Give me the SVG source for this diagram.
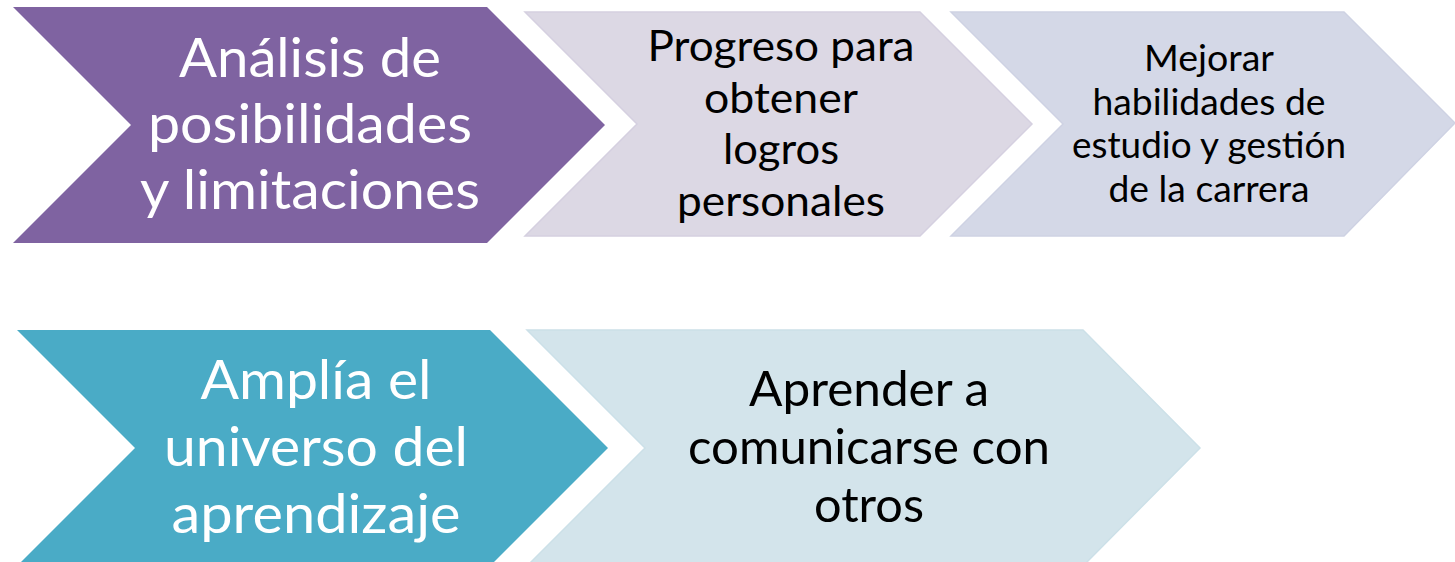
<svg xmlns="http://www.w3.org/2000/svg" width="1455" height="562" viewBox="0 0 1455 562">
<style>
  text { font-family: Lato, "Open Sans", "Liberation Sans", sans-serif; text-anchor: middle; }
  .w { fill: #ffffff; }
  .k { fill: #000000; }
  .f1 { font-size: 55px; }
  .f2 { font-size: 42.5px; }
  .f3 { font-size: 36px; }
  .f5 { font-size: 47.5px; }
  .purple { fill: #7f63a1; }
  .lpurple { fill: #dcd8e4; stroke: #d5d0e0; stroke-width: 1.5; }
  .lblue { fill: #d4d8e7; stroke: #ced2e3; stroke-width: 1.5; }
  .teal { fill: #4aabc6; }
  .lteal { fill: #d3e4eb; stroke: #cce0e8; stroke-width: 1.5; }
</style>
<rect width="1455" height="562" fill="#ffffff"/>
<g id="analisis">
  <path class="purple" d="M13,7 L487,7 L605,125 L487,243 L13,243 L131,125 Z"/>
  <text class="w f1" x="310" y="77" textLength="262" lengthAdjust="spacingAndGlyphs">Análisis de</text>
  <text class="w f1" x="310" y="143" textLength="324" lengthAdjust="spacingAndGlyphs">posibilidades</text>
  <text class="w f1" x="310" y="209" textLength="340" lengthAdjust="spacingAndGlyphs">y limitaciones</text>
</g>
<g id="progreso">
  <path class="lpurple" d="M525,12 L920,12 L1032,124 L920,236 L525,236 L637,124 Z"/>
  <text class="k f2" x="781" y="61" textLength="267" lengthAdjust="spacingAndGlyphs">Progreso para</text>
  <text class="k f2" x="781" y="112.5" textLength="154" lengthAdjust="spacingAndGlyphs">obtener</text>
  <text class="k f2" x="781" y="164" textLength="116" lengthAdjust="spacingAndGlyphs">logros</text>
  <text class="k f2" x="781" y="215.5" textLength="208" lengthAdjust="spacingAndGlyphs">personales</text>
</g>
<g id="mejorar">
  <path class="lblue" d="M951,12 L1344,12 L1455,123 L1344,236 L951,236 L1063,124 Z"/>
  <text class="k f3" x="1209" y="71" textLength="130" lengthAdjust="spacingAndGlyphs">Mejorar</text>
  <text class="k f3" x="1209" y="114.5" textLength="233" lengthAdjust="spacingAndGlyphs">habilidades de</text>
  <text class="k f3" x="1209" y="158" textLength="274" lengthAdjust="spacingAndGlyphs">estudio y gestión</text>
  <text class="k f3" x="1209" y="201.5" textLength="201" lengthAdjust="spacingAndGlyphs">de la carrera</text>
</g>
<g id="amplia">
  <path class="teal" d="M17,330 L490,330 L608,448 L490,566 L17,566 L135,448 Z"/>
  <text class="w f1" x="316" y="399" textLength="231" lengthAdjust="spacingAndGlyphs">Amplía el</text>
  <text class="w f1" x="316" y="466" textLength="304" lengthAdjust="spacingAndGlyphs">universo del</text>
  <text class="w f1" x="316" y="533" textLength="289" lengthAdjust="spacingAndGlyphs">aprendizaje</text>
</g>
<g id="aprender">
  <path class="lteal" d="M527,330 L1083,330 L1200,448 L1083,566 L527,566 L645,448 Z"/>
  <text class="k f5" x="869" y="406" textLength="240" lengthAdjust="spacingAndGlyphs">Aprender a</text>
  <text class="k f5" x="869" y="464" textLength="362" lengthAdjust="spacingAndGlyphs">comunicarse con</text>
  <text class="k f5" x="869" y="522" textLength="110" lengthAdjust="spacingAndGlyphs">otros</text>
</g>
<g id="connectors"/>
</svg>
